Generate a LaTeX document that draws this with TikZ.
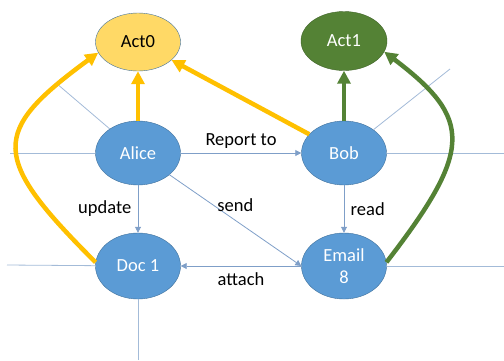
\documentclass[tikz,border=0pt]{standalone}
\usepackage{fontspec}
\setmainfont{Carlito}
\usepackage{tikz}
\usetikzlibrary{shapes.geometric, arrows.meta}
\definecolor{nodeblue}{HTML}{5B9BD5}
\definecolor{nodeedge}{HTML}{41719C}
\definecolor{actyellow}{HTML}{FFD966}
\definecolor{actgreen}{HTML}{548235}
\definecolor{actgreenedge}{HTML}{3F6328}
\definecolor{arrowyellow}{HTML}{FFC000}
\definecolor{thinblue}{HTML}{7F9FC8}
\definecolor{strayblue}{HTML}{A3BBD8}
\tikzstyle{bnode} = [ellipse, fill=nodeblue, draw=nodeedge, text=white, minimum width=85bp, minimum height=66bp, inner sep=0pt, align=center]
\tikzstyle{ynode} = [ellipse, fill=actyellow, draw=nodeedge, text=black, minimum width=85bp, minimum height=58bp, inner sep=0pt]
\tikzstyle{gnode} = [ellipse, fill=actgreen, draw=actgreenedge, text=white, minimum width=86bp, minimum height=59bp, inner sep=0pt]
\tikzstyle{line} = [draw=thinblue, line width=0.8bp, -{Triangle[length=6bp, width=6bp]}]
\tikzstyle{stray} = [draw=strayblue, line width=0.8bp]
\tikzstyle{yarrow} = [draw=arrowyellow, line width=4.5bp, -{Triangle[length=13bp, width=13bp]}]
\tikzstyle{garrow} = [draw=actgreen, line width=4.5bp, -{Triangle[length=13bp, width=13bp]}]

\begin{document}
\begin{tikzpicture}[x=1bp, y=-1bp, font=\fontsize{18.5bp}{22bp}\selectfont]
			\useasboundingbox (0,0) rectangle (504,360);
			\node [ynode] (act0) at (138, 42) {Act0};
			\node [gnode] (act1) at (344, 41) {Act1};
			\node [bnode, minimum height=64bp] (alice) at (138, 153) {Alice};
			\node [bnode, minimum height=64bp] (bob) at (344, 153) {Bob};
			\node [bnode] (doc) at (138, 266) {Doc 1};
			\node [bnode] (email) at (344, 266) {Email\\8};
			
			\coordinate (aliceW) at (10, 153);
			\coordinate (aliceNW) at (56, 83);
			\coordinate (bobE) at (504, 153);
			\coordinate (bobNE) at (450, 69);
			\coordinate (docW) at (7, 265);
			\coordinate (docS) at (138, 360);
			\coordinate (emailE) at (504, 266);
			
			\path [stray] (aliceW) -- (alice);
			\path [stray] (aliceNW) -- (alice);
			\path [stray] (bobE) -- (bob);
			\path [stray] (bobNE) -- (bob);
			\path [stray] (docW) -- (doc);
			\path [stray] (docS) -- (doc);
			\path [stray] (emailE) -- (email);
			
			\path [line] (alice) -- node [above=1bp] {Report to} (bob);
			\path [line] (alice) -- node [left=3bp] {update} (doc);
			\path [line] (alice) -- node [above=5bp] {send} (email.west);
			\path [line] (bob) -- node [right=3bp] {read} (email);
			\path [line] (email) -- node [below=3bp] {attach} (doc);
			
			\path [yarrow] (alice) -- (act0);
			\path [yarrow] (bob) -- (act0);
			\path [yarrow] (doc.175) .. controls (-10, 157) and (-10, 132) .. (act0.195);
			\path [garrow] (bob) -- (act1);
			\path [garrow] (email.5) .. controls (473, 150) and (473, 119) .. (act1.-15);
		\end{tikzpicture}
\end{document}
